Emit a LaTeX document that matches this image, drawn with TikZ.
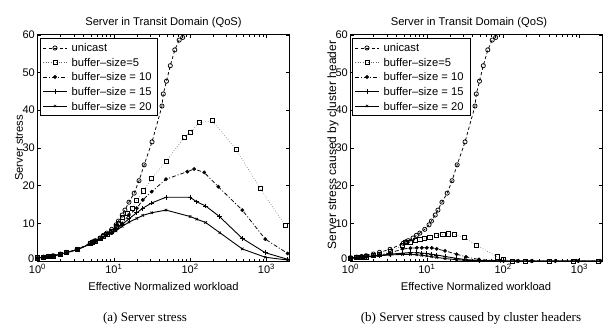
\documentclass[tikz,border=0pt]{standalone}
\usepackage{fontspec}
\setmainfont{Liberation Sans}
\newfontfamily\capfont{Liberation Serif}
\usetikzlibrary{plotmarks}

\tikzset{
  uni/.style={black, line width=0.75pt, dash pattern=on 3.2pt off 2.4pt, mark=o, mark size=2.1pt, mark options={solid, line width=0.75pt}},
  bfive/.style={black!60, line width=0.6pt, dotted, mark=square, mark size=2.1pt, mark options={solid, black, line width=0.75pt}},
  bten/.style={black, line width=0.75pt, dash pattern=on 4pt off 2pt on 1pt off 2pt, mark=*, mark size=1.5pt, mark options={solid}},
  bfifteen/.style={black, line width=0.9pt, mark=+, mark size=2.3pt, mark options={solid, line width=0.7pt}},
  btwenty/.style={black, line width=0.9pt, mark=x, mark size=1.7pt, mark options={solid, line width=0.7pt}},
  lbl/.style={font=\fontsize{11.2}{13}\selectfont, inner sep=0pt},
  tl/.style={font=\fontsize{11}{12}\selectfont, inner sep=0pt},
  tk/.style={black, line width=0.5pt},
  captxt/.style={font=\capfont\fontsize{13}{15}\selectfont, inner sep=0pt},
  legbox/.style={draw=black, fill=white, line width=0.9pt},
  axbox/.style={black, line width=0.9pt},
}

\newcommand\axisframe[1]{%
  \draw[axbox] (0,0) rectangle (3.301,60);
  \foreach \v in {10,20,...,60}{
    \draw[tk] (0,\v) -- ++(3pt,0);
    \draw[tk] (3.301,\v) -- ++(-3pt,0);
    \node[tl, anchor=east] (#1y\v) at ([xshift=-2.5pt]0,\v) {\v};
  }
  \node[tl, anchor=east] (#1y0) at ([xshift=-3pt,yshift=2.6pt]0,0) {0};
  \foreach \d in {0,1,2,3}{
    \draw[tk] (\d,0) -- ++(0,3pt);
    \draw[tk] (\d,60) -- ++(0,-3pt);
    \node[tl, anchor=north] (#1x\d) at ([yshift=-2.6pt]\d,0) {10\textsuperscript{\d}};
  }
  \foreach \d in {0,1,2}{\foreach \m in {2,...,9}{
    \draw[tk] ({\d+log10(\m)},0) -- ++(0,1.8pt);
    \draw[tk] ({\d+log10(\m)},60) -- ++(0,-1.8pt);
  }}
}

\newcommand\drawUni{\draw[uni] plot coordinates {(0,0.9) (0.0792,1.05) (0.1461,1.2) (0.2041,1.4) (0.3010,1.85) (0.3802,2.3) (0.5185,3.1) (0.6902,4.7) (0.7243,5.1) (0.7559,5.4) (0.8195,6.1) (0.8633,6.8) (0.9085,7.4) (0.9731,8.4) (1.0294,9.6) (1.0607,10.6) (1.1106,12.2) (1.1461,13.5) (1.1987,15.6) (1.2672,18) (1.3304,21.3) (1.3979,25.5) (1.5011,31.6) (1.6314,41.1) (1.6484,44.3) (1.6902,47.7) (1.7404,51.8) (1.7993,56) (1.8573,58.6) (1.9031,59.3) (1.9777,63)};}

\begin{document}
\begin{tikzpicture}[x=1pt,y=1pt]
\useasboundingbox (0,0) rectangle (610,329);

% ---------------- left plot ----------------
\begin{scope}[shift={(37.5pt,68pt)}, x=76.3pt, y=3.77pt]
  \begin{scope}
    \clip (-0.05,-1.2) rectangle (3.35,60);
    \draw[bfive] plot coordinates {(0,0.85) (0.0792,1.0) (0.1461,1.15) (0.2041,1.3) (0.3010,1.8) (0.3802,2.2) (0.5185,3.0) (0.6902,4.6) (0.7243,5.0) (0.7559,5.3) (0.8195,5.9) (0.8633,6.5) (0.9085,7.1) (0.9731,7.8) (1.0294,9.2) (1.0607,10) (1.1106,11.6) (1.1761,12.6) (1.2405,14) (1.2989,16) (1.3874,18.6) (1.4969,21.9) (1.6839,26.4) (1.9243,32.8) (2.0086,34.2) (2.1206,36.7) (2.2878,37.2) (2.6021,29.6) (2.9165,19.3) (3.2443,9.5)};
    \draw[bten] plot coordinates {(0,0.8) (0.0792,1.0) (0.1461,1.15) (0.2041,1.3) (0.3010,1.8) (0.3802,2.2) (0.5185,3.0) (0.6902,4.5) (0.7243,4.9) (0.7559,5.2) (0.8195,5.8) (0.9085,7.1) (0.9731,7.6) (1.0294,8.6) (1.1106,10) (1.1987,12.2) (1.3010,14) (1.3802,16.2) (1.4969,18.4) (1.6839,21.7) (1.9638,23.7) (2.0531,24.4) (2.1847,23.5) (2.3692,19.7) (2.6839,13.5) (2.9850,5.8) (3.2788,2.0)};
    \draw[bfifteen] plot coordinates {(0,0.8) (0.0792,1.0) (0.1461,1.15) (0.2041,1.3) (0.3010,1.8) (0.3802,2.2) (0.5185,3.0) (0.6902,4.5) (0.7243,4.9) (0.7559,5.2) (0.8195,5.8) (0.9085,7.0) (0.9731,7.5) (1.0294,8.3) (1.1106,9.7) (1.1987,11.2) (1.3010,12.8) (1.3802,14) (1.4969,15.4) (1.6839,16.9) (2,16.9) (2.0864,15.7) (2.2041,14.6) (2.3838,11.8) (2.6839,6) (2.9850,2.2) (3.2788,0.45)};
    \draw[btwenty] plot coordinates {(0,0.8) (0.0792,1.0) (0.1461,1.15) (0.2041,1.3) (0.3010,1.8) (0.3802,2.2) (0.5185,3.0) (0.6902,4.5) (0.7243,4.9) (0.7559,5.2) (0.8195,5.8) (0.9085,6.9) (0.9731,7.3) (1.0294,8.0) (1.1106,9.2) (1.1987,10.3) (1.3010,11.3) (1.3802,12.1) (1.4969,12.8) (1.6839,13.5) (2,11.8) (2.0864,11.1) (2.2041,10.2) (2.3892,7.5) (2.6839,3.2) (2.9850,1.0) (3.2788,0.25)};
    \drawUni
  \end{scope}
  \axisframe{L}
\end{scope}

% ---------------- right plot ----------------
\begin{scope}[shift={(350.5pt,68pt)}, x=76.3pt, y=3.77pt]
  \begin{scope}
    \clip (-0.05,-1.2) rectangle (3.35,60);
    \draw[bfive] plot coordinates {(0,0.8) (0.0792,0.9) (0.1461,1.0) (0.2041,1.1) (0.3010,1.4) (0.3802,1.7) (0.5185,2.4) (0.6812,4.1) (0.7160,4.9) (0.7853,5.0) (0.8451,5.4) (0.9085,5.8) (0.9731,6.0) (1.0414,6.3) (1.1303,6.7) (1.2095,7.1) (1.2810,7.2) (1.3579,7.1) (1.4914,6.2) (1.6532,4.2) (1.9243,1.1) (2,0.45) (2.1206,0) (2.2878,0) (2.6021,0) (2.9165,0) (3.2443,0)};
    \draw[bten] plot coordinates {(0,0.8) (0.0792,0.9) (0.1461,1.0) (0.2041,1.1) (0.3010,1.4) (0.3802,1.6) (0.5185,2.1) (0.6812,3.2) (0.7853,3.4) (0.8692,3.5) (0.9345,3.5) (1,3.5) (1.0645,3.5) (1.1303,3.2) (1.2380,2.7) (1.3909,1.8) (1.5132,1.1) (1.6839,0.4) (1.9638,0.05) (2.1847,0) (2.3692,0) (2.6839,0) (2.9850,0) (3.2788,0)};
    \draw[bfifteen] plot coordinates {(0,0.8) (0.0792,0.9) (0.1461,1.0) (0.2041,1.1) (0.3010,1.35) (0.3802,1.5) (0.5185,1.8) (0.6812,2.1) (0.7853,2.2) (0.8692,2.2) (0.9345,2.1) (1,2.0) (1.0645,1.8) (1.1303,1.6) (1.2380,1.2) (1.3909,0.7) (1.4969,0.4) (1.6839,0.15) (2,0) (2.2041,0) (2.3838,0) (2.6839,0) (2.9850,0) (3.2788,0)};
    \draw[btwenty] plot coordinates {(0,0.7) (0.0792,0.85) (0.1461,0.95) (0.2041,1.05) (0.3010,1.25) (0.3802,1.4) (0.5185,1.6) (0.6812,1.75) (0.7853,1.75) (0.8692,1.65) (0.9345,1.5) (1,1.35) (1.0645,1.15) (1.1303,0.95) (1.2380,0.65) (1.3909,0.35) (1.4969,0.2) (1.6839,0.05) (2,0) (2.2041,0) (2.3892,0) (2.6839,0) (2.9850,0) (3.2788,0)};
    \drawUni
  \end{scope}
  \axisframe{R}
\end{scope}

% ---------------- legends ----------------
\draw[legbox] (40.7,214) rectangle (157.7,291);
\draw[uni] (43,281) -- (67,281);  \draw[uni] plot coordinates {(55,281)};
\draw[bfive] (43,266.5) -- (67,266.5);  \draw[bfive] plot coordinates {(55,266.5)};
\draw[bten] (43,252) -- (67,252);  \draw[bten] plot coordinates {(55,252)};
\draw[bfifteen] (43,237.5) -- (67,237.5);  \draw[bfifteen] plot coordinates {(55,237.5)};
\draw[btwenty] (43,223) -- (67,223);  \draw[btwenty] plot coordinates {(55,223)};
\node[lbl, anchor=west] (lL1) at (71.5,281) {unicast};
\node[lbl, anchor=west] (lL2) at (71.5,266.5) {buffer\textendash size=5};
\node[lbl, anchor=west] (lL3) at (71.5,252) {buffer\textendash size = 10};
\node[lbl, anchor=west] (lL4) at (71.5,237.5) {buffer\textendash size = 15};
\node[lbl, anchor=west] (lL5) at (71.5,223) {buffer\textendash size = 20};

\draw[legbox] (352.7,214) rectangle (470,291);
\draw[uni] (355,281) -- (379,281);  \draw[uni] plot coordinates {(367,281)};
\draw[bfive] (355,266.5) -- (379,266.5);  \draw[bfive] plot coordinates {(367,266.5)};
\draw[bten] (355,252) -- (379,252);  \draw[bten] plot coordinates {(367,252)};
\draw[bfifteen] (355,237.5) -- (379,237.5);  \draw[bfifteen] plot coordinates {(367,237.5)};
\draw[btwenty] (355,223) -- (379,223);  \draw[btwenty] plot coordinates {(367,223)};
\node[lbl, anchor=west] (lR1) at (383.5,281) {unicast};
\node[lbl, anchor=west] (lR2) at (383.5,266.5) {buffer\textendash size=5};
\node[lbl, anchor=west] (lR3) at (383.5,252) {buffer\textendash size = 10};
\node[lbl, anchor=west] (lR4) at (383.5,237.5) {buffer\textendash size = 15};
\node[lbl, anchor=west] (lR5) at (383.5,223) {buffer\textendash size = 20};

% ---------------- titles & labels ----------------
\node[lbl] (tL) at (163.5,306) {Server in Transit Domain (QoS)};
\node[lbl] (tR) at (469,306) {Server in Transit Domain (QoS)};
\node[lbl] (xL) at (163.5,43) {Effective Normalized workload};
\node[lbl] (xR) at (476,43) {Effective Normalized workload};
\node[lbl, rotate=90] (yL) at (19,181) {Server stress};
\node[lbl, rotate=90, font=\fontsize{12}{14}\selectfont] (yR) at (333,184) {Server stress caused by cluster header};
\node[captxt] (cL) at (145,11) {(a) Server stress};
\node[captxt] (cR) at (471,11) {(b) Server stress caused by cluster headers};
\end{tikzpicture}
\end{document}
